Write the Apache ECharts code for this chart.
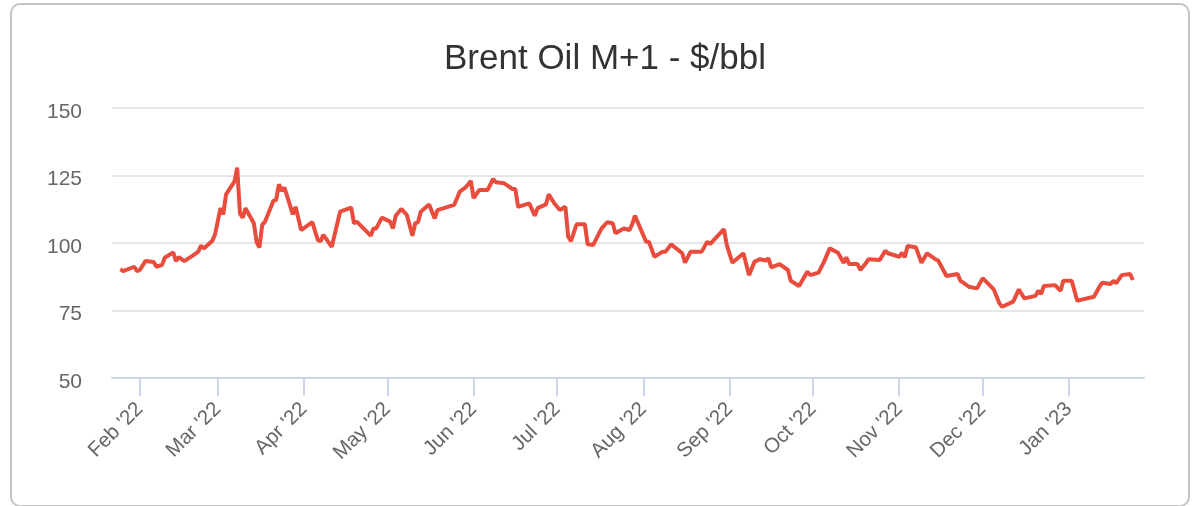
<!DOCTYPE html>
<html>
<head>
<meta charset="utf-8">
<title>Brent Oil M+1 - $/bbl</title>
<script src="https://cdn.jsdelivr.net/npm/echarts@6/dist/echarts.min.js"></script>
<style>
  html, body { margin: 0; padding: 0; background: #fff; }
  #frame {
    position: absolute; left: 10px; top: 3px; width: 1180px; height: 504px;
    box-sizing: border-box; border: 2px solid #c4c4c4; border-radius: 10px;
  }
  #chart { position: absolute; left: 0; top: 0; width: 1198px; height: 506px; }
</style>
</head>
<body>
<div id="frame"></div>
<div id="chart"></div>
<script>
// chart text
const chartTitle = 'Brent Oil M+1 - $/bbl';
const monthNames = ['Jan', 'Feb', 'Mar', 'Apr', 'May', 'Jun', 'Jul', 'Aug', 'Sep', 'Oct', 'Nov', 'Dec'];

// x axis: visible range and the month ticks
const axisStart = '2022-01-22';
const axisEnd = '2023-01-28';
const monthTicks = [
  '2022-02-01', '2022-03-01', '2022-04-01', '2022-05-01', '2022-06-01', '2022-07-01',
  '2022-08-01', '2022-09-01', '2022-10-01', '2022-11-01', '2022-12-01', '2023-01-01'
];

// y axis
const yTicks = [50, 75, 100, 125, 150];

// Brent front-month price
const dates = [
  '2022-01-25', '2022-01-26', '2022-01-30', '2022-01-31', '2022-02-01', '2022-02-03', '2022-02-06', '2022-02-07',
  '2022-02-09', '2022-02-10', '2022-02-13', '2022-02-14', '2022-02-15', '2022-02-17', '2022-02-20', '2022-02-22',
  '2022-02-23', '2022-02-24', '2022-02-27', '2022-02-28',
  '2022-03-02', '2022-03-03', '2022-03-04', '2022-03-07', '2022-03-08', '2022-03-09', '2022-03-10', '2022-03-11',
  '2022-03-14', '2022-03-15', '2022-03-16', '2022-03-17', '2022-03-18', '2022-03-21', '2022-03-22', '2022-03-23',
  '2022-03-24', '2022-03-25', '2022-03-28', '2022-03-29', '2022-03-31',
  '2022-04-04', '2022-04-06', '2022-04-07', '2022-04-08', '2022-04-11', '2022-04-14', '2022-04-18', '2022-04-19',
  '2022-04-20', '2022-04-25', '2022-04-26', '2022-04-27', '2022-04-29',
  '2022-05-02', '2022-05-03', '2022-05-04', '2022-05-06', '2022-05-08', '2022-05-10', '2022-05-11', '2022-05-12',
  '2022-05-13', '2022-05-16', '2022-05-18', '2022-05-19', '2022-05-21', '2022-05-25', '2022-05-27', '2022-05-29',
  '2022-05-31',
  '2022-06-01', '2022-06-03', '2022-06-06', '2022-06-08', '2022-06-09', '2022-06-12', '2022-06-15', '2022-06-16',
  '2022-06-17', '2022-06-21', '2022-06-23', '2022-06-24', '2022-06-27', '2022-06-28', '2022-06-30',
  '2022-07-02', '2022-07-04', '2022-07-05', '2022-07-06', '2022-07-08', '2022-07-11', '2022-07-12', '2022-07-14',
  '2022-07-17', '2022-07-19', '2022-07-21', '2022-07-22', '2022-07-25', '2022-07-27', '2022-07-28', '2022-07-29',
  '2022-08-02', '2022-08-03', '2022-08-05', '2022-08-08', '2022-08-09', '2022-08-11', '2022-08-15', '2022-08-16',
  '2022-08-18', '2022-08-22', '2022-08-24', '2022-08-25', '2022-08-30', '2022-08-31',
  '2022-09-02', '2022-09-06', '2022-09-08', '2022-09-10', '2022-09-12', '2022-09-14', '2022-09-15', '2022-09-16',
  '2022-09-19', '2022-09-22', '2022-09-23', '2022-09-26', '2022-09-29', '2022-09-30',
  '2022-10-03', '2022-10-05', '2022-10-07', '2022-10-10', '2022-10-12', '2022-10-13', '2022-10-14', '2022-10-17',
  '2022-10-18', '2022-10-20', '2022-10-21', '2022-10-25', '2022-10-27', '2022-10-28',
  '2022-11-01', '2022-11-02', '2022-11-03', '2022-11-04', '2022-11-07', '2022-11-09', '2022-11-11', '2022-11-14',
  '2022-11-15', '2022-11-18', '2022-11-22', '2022-11-23', '2022-11-24', '2022-11-26', '2022-11-29',
  '2022-12-01', '2022-12-05', '2022-12-07', '2022-12-08', '2022-12-12', '2022-12-14', '2022-12-16', '2022-12-20',
  '2022-12-21', '2022-12-22', '2022-12-23', '2022-12-27', '2022-12-29', '2022-12-30',
  '2023-01-02', '2023-01-04', '2023-01-06', '2023-01-10', '2023-01-12', '2023-01-13', '2023-01-16', '2023-01-17',
  '2023-01-18', '2023-01-20', '2023-01-23', '2023-01-24'
];
const prices = [
  90.3, 89.6, 91.2, 89.6, 90.0, 93.3, 93.0, 91.2,
  91.9, 94.6, 96.5, 93.3, 94.8, 93.3, 95.3, 96.8,
  99.0, 98.0, 100.7, 103.0,
  112.9, 110.6, 118.0, 122.7, 127.9, 111.0, 109.4, 112.9,
  107.3, 100.3, 98.3, 106.7, 107.9, 115.6, 116.0, 121.7,
  119.3, 120.5, 110.6, 113.4, 104.8,
  107.7, 101.1, 100.7, 103.0, 98.6, 111.6, 113.1, 107.3,
  107.9, 102.7, 105.4, 105.4, 109.4,
  107.9, 105.4, 110.1, 112.6, 110.4, 102.7, 107.3, 107.7,
  111.6, 114.3, 109.1, 112.2, 112.8, 114.1, 119.0, 120.5,
  123.0,
  116.6, 119.6, 119.6, 123.7, 122.5, 122.1, 120.0, 120.0,
  113.4, 114.7, 110.1, 112.9, 114.3, 118.0, 114.7,
  112.2, 113.4, 102.3, 100.7, 106.9, 106.9, 99.5, 99.3,
  105.4, 107.7, 107.3, 103.6, 105.4, 104.8, 106.9, 110.1,
  100.5, 100.5, 94.9, 96.8, 96.8, 99.5, 96.2, 92.7,
  96.8, 96.8, 100.5, 99.6, 105.1, 99.3,
  92.7, 96.2, 88.1, 93.1, 94.0, 93.5, 94.3, 91.0,
  92.2, 90.0, 86.0, 84.1, 89.4, 88.1,
  89.0, 93.1, 98.0, 96.4, 92.7, 94.7, 92.2, 92.2,
  90.0, 92.5, 94.0, 93.7, 97.1, 96.2,
  94.9, 96.4, 94.7, 98.9, 98.4, 92.7, 96.2, 94.0,
  93.5, 87.8, 88.5, 86.0, 85.3, 83.8, 83.2,
  87.0, 82.8, 77.7, 76.4, 78.3, 82.8, 79.5, 80.4,
  82.3, 81.1, 84.1, 84.4, 82.3, 86.0,
  86.0, 78.6, 79.1, 80.1, 83.8, 85.3, 84.8, 86.0,
  85.1, 88.1, 88.5, 86.3
];

const FONT = '"Liberation Sans", Arial, Helvetica, sans-serif';
const AXIS_BLUE = '#ccd6eb';
const LINE_RED = '#e84c3d';

// local-time timestamp from 'YYYY-MM-DD'
function ts(s) {
  const [y, m, d] = s.split('-').map(Number);
  return new Date(y, m - 1, d).getTime();
}

function monthLabel(value) {
  const d = new Date(value);
  return monthNames[d.getMonth()] + " '" + String(d.getFullYear()).slice(2);
}

const tickValues = monthTicks.map(ts);
const seriesData = dates.map((d, i) => [ts(d), prices[i]]);

const chart = echarts.init(document.getElementById('chart'));
chart.setOption({
  animation: false,
  backgroundColor: 'transparent',
  textStyle: { fontFamily: FONT },
  title: {
    text: chartTitle,
    left: 439,
    top: 37,
    textStyle: { fontFamily: FONT, fontSize: 35, fontWeight: 'normal', color: '#333333' }
  },
  grid: { left: 112, right: 54, top: 108, bottom: 128, containLabel: false },
  xAxis: {
    // timestamps on a plain value axis so the month ticks can be placed exactly
    type: 'value',
    min: ts(axisStart),
    max: ts(axisEnd),
    axisLine: { show: true, lineStyle: { color: AXIS_BLUE, width: 2 } },
    axisTick: {
      show: true,
      customValues: tickValues,
      length: 18,
      lineStyle: { color: AXIS_BLUE, width: 2 }
    },
    axisLabel: {
      customValues: tickValues,
      rotate: 45,
      margin: 28,
      fontSize: 20.5,
      color: '#666666',
      fontFamily: FONT,
      formatter: monthLabel
    },
    splitLine: { show: false }
  },
  yAxis: {
    type: 'value',
    min: yTicks[0],
    max: yTicks[yTicks.length - 1],
    interval: yTicks[1] - yTicks[0],
    axisLine: { show: false },
    axisTick: { show: false },
    axisLabel: {
      margin: 30,
      formatter: v => '{t|' + v + '}',
      rich: { t: { fontSize: 21, color: '#666666', fontFamily: FONT, padding: [8, 0, 0, 0] } }
    },
    splitLine: { lineStyle: { color: '#e6e6e6', width: 1.8 } }
  },
  series: [{
    name: 'Brent Oil M+1',
    type: 'line',
    data: seriesData,
    showSymbol: false,
    smooth: false,
    lineStyle: { color: LINE_RED, width: 4 },
    itemStyle: { color: LINE_RED }
  }]
});
</script>
</body>
</html>
